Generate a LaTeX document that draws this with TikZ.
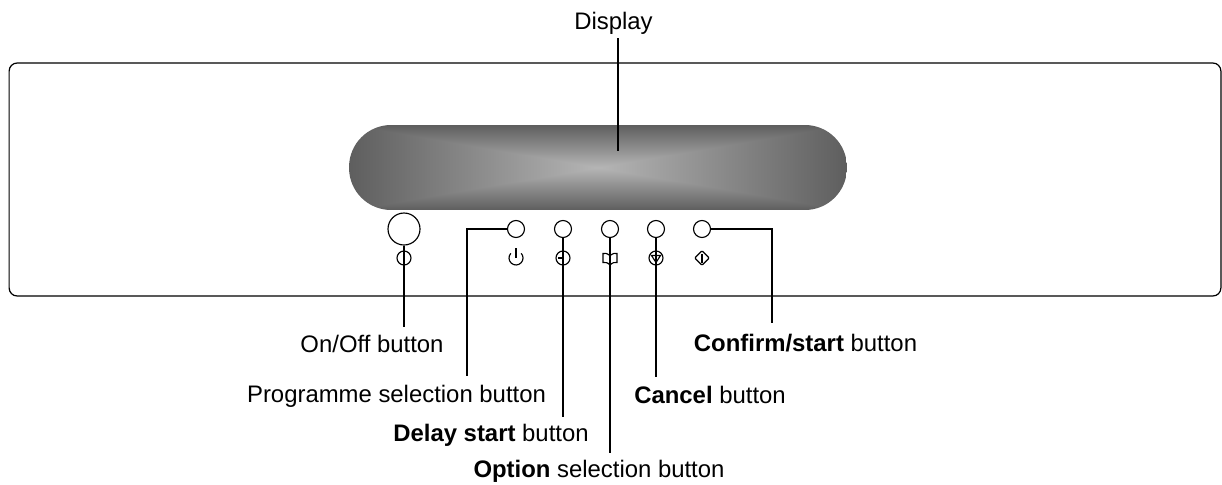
\documentclass[tikz,border=0pt]{standalone}
\usepackage{fontspec}
\setmainfont{Liberation Sans}
\usetikzlibrary{shapes}

% gray rectangular gradient, lightest in the middle
\pgfdeclarefunctionalshading{displayshade}{\pgfpoint{0bp}{0bp}}{\pgfpoint{100bp}{100bp}}{}{
  50 sub abs 25 div exch 50 sub abs 25 div
  2 copy lt {exch} if pop
  dup 1 gt {pop 1} if
  0.34 mul neg 0.71 add dup dup
}

\tikzset{
  lbl/.style={inner sep=0pt, font=\fontsize{13.6pt}{16pt}\selectfont},
  leader/.style={line width=.75pt},
  thin line/.style={line width=.65pt},
  btn/.style={circle, draw, thin line, inner sep=0pt, minimum size=.34cm},
}

\begin{document}
\begin{tikzpicture}[x=.02cm, y=-.02cm]
\useasboundingbox (0,0) rectangle (1222,484);

% panel and display
\node[draw, line width=.7pt, rounded corners=.16cm, minimum width=24.24cm, minimum height=4.66cm, inner sep=0pt] (panel) at (615,179.5) {};
\node[shading=displayshade, rounded corners=.84cm, minimum width=9.96cm, minimum height=1.7cm, inner sep=0pt] (display) at (598,167.5) {};

% buttons
\node[btn, minimum size=.64cm] (onoff) at (404,229) {};
\node[btn] (prog)    at (516,229) {};
\node[btn] (delay)   at (563,229) {};
\node[btn] (option)  at (610,229) {};
\node[btn] (cancel)  at (656,229) {};
\node[btn] (confirm) at (702,229) {};

% symbols under the buttons
\node[btn, minimum size=.28cm] (onoffsym)  at (404,258) {};
\node[btn, minimum size=.28cm] (delaysym)  at (563,258) {};
\node[btn, minimum size=.28cm] (cancelsym) at (656,258) {};
\node[diamond, draw, thin line, rounded corners=.02cm, inner sep=0pt, minimum size=.3cm] (confirmsym) at (702,258) {};
\draw[thin line] (510.8,253.3) arc (222:-42:7);
\draw[thin line] (516,248) -- (516,258);
\draw[thin line] (563,258) -- (557.5,258);
\draw[thin line] (651.5,255.5) -- (660.5,255.5) -- (656,262.5) -- cycle;
\draw[thin line] (702,254) -- (702,262.5);
\draw[thin line] (610,255.5) .. controls (606.5,253) and (604.5,253) .. (603,253.5) -- (603,262.5) .. controls (605.5,262) and (607.5,262.5) .. (610,265) .. controls (612.5,262.5) and (614.5,262) .. (617,262.5) -- (617,253.5) .. controls (615.5,253) and (613.5,253) .. (610,255.5);

% labels
\node[lbl] (displaylbl) at (613.5,23) {Display};
\node[lbl] (onofflbl)   at (372,344) {On/Off button};
\node[lbl] (proglbl)    at (396.5,396) {Programme selection button};
\node[lbl] (delaylbl)   at (491,435) {\textbf{Delay start} button};
\node[lbl] (optionlbl)  at (599,471) {\textbf{Option} selection button};
\node[lbl] (cancellbl)  at (710,395) {\textbf{Cancel} button};
\node[lbl] (confirmlbl) at (805.5,343) {\textbf{Confirm/start} button};

% free ends of the leader lines
\coordinate (displayend) at (618,151);
\coordinate (displaytop) at (618,38);
\coordinate (onoffend)   at (404,327);
\coordinate (progend)    at (467,376);
\coordinate (delayend)   at (563,417);
\coordinate (optionend)  at (610,453);
\coordinate (cancelend)  at (656,377);
\coordinate (confirmend) at (772,323);

\draw[leader] (displaytop) -- (displayend);
\draw[leader] (onoff) -- (onoffend);
\draw[leader] (prog) -- (progend |- prog) -- (progend);
\draw[leader] (delay) -- (delayend);
\draw[leader] (option) -- (optionend);
\draw[leader] (cancel) -- (cancelend);
\draw[leader] (confirm) -- (confirmend |- confirm) -- (confirmend);

\end{tikzpicture}
\end{document}
